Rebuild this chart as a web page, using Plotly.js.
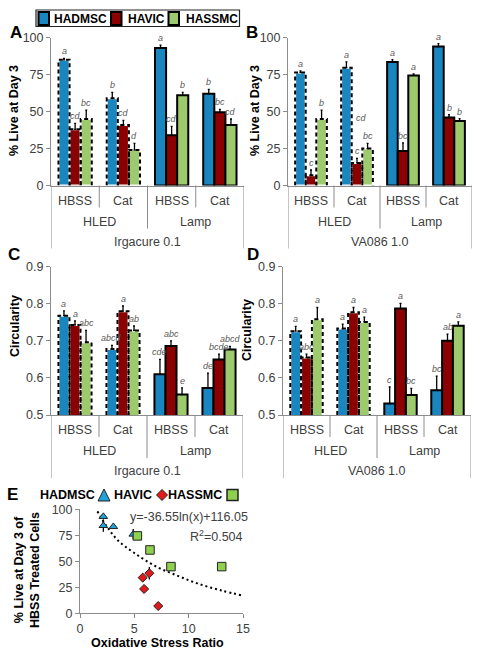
<!DOCTYPE html>
<html><head><meta charset="utf-8">
<script src="https://cdn.plot.ly/plotly-3.0.1.min.js"></script>
<style>html,body{margin:0;padding:0;background:#fff}#chart{width:483px;height:656px}</style>
</head><body><div id="chart"></div>
<script>
// ---------- data ----------
const groups = ['HBSS', 'Cat', 'HBSS', 'Cat'];
const lights = ['HLED', 'Lamp'];
const cellTypes = ['HADMSC', 'HAVIC', 'HASSMC'];

// Panel A: Irgacure 0.1, % live at day 3
const A_HADMSC = [85, 59, 93, 62];
const A_HAVIC = [38, 41, 34, 49.5];
const A_HASSMC = [45, 24, 61, 41];
const A_HADMSC_err = [1, 4, 2, 3];
const A_HAVIC_err = [4, 3, 6, 2];
const A_HASSMC_err = [6, 4.5, 2, 4];
const A_HADMSC_sig = ['a', 'b', 'a', 'b'];
const A_HAVIC_sig = ['cd', 'cd', 'cd', 'bc'];
const A_HASSMC_sig = ['bc', 'd', 'b', 'cd'];

// Panel B: VA086 1.0, % live at day 3
const B_HADMSC = [76.5, 79.7, 83.6, 94];
const B_HAVIC = [7, 15.3, 23.4, 46];
const B_HASSMC = [45, 25, 74.5, 43.7];
const B_HADMSC_err = [1, 4, 1.5, 2];
const B_HAVIC_err = [3.5, 3, 5.5, 2];
const B_HASSMC_err = [6, 3.5, 1, 1.5];
const B_HADMSC_sig = ['a', 'a', 'a', 'a'];
const B_HAVIC_sig = ['c', 'c', 'bc', 'b'];
const B_HASSMC_sig = ['b', 'bc', 'a', 'b'];

// Panel C: Irgacure 0.1, circularity
const C_HADMSC = [0.768, 0.678, 0.61, 0.573];
const C_HAVIC = [0.743, 0.780, 0.686, 0.650];
const C_HASSMC = [0.696, 0.728, 0.555, 0.677];
const C_HADMSC_err = [0.013, 0.010, 0.04, 0.04];
const C_HAVIC_err = [0.011, 0.014, 0.014, 0.014];
const C_HASSMC_err = [0.032, 0.012, 0.018, 0.008];
const C_HADMSC_sig = ['a', 'abcd', 'cde', 'de'];
const C_HAVIC_sig = ['a', 'a', 'abc', 'bcde'];
const C_HASSMC_sig = ['abc', 'ab', 'e', 'abcd'];

// Panel D: VA086 1.0, circularity
const D_HADMSC = [0.726, 0.733, 0.531, 0.567];
const D_HAVIC = [0.655, 0.777, 0.787, 0.700];
const D_HASSMC = [0.758, 0.751, 0.554, 0.741];
const D_HADMSC_err = [0.013, 0.012, 0.045, 0.038];
const D_HAVIC_err = [0.009, 0.013, 0.014, 0.018];
const D_HASSMC_err = [0.032, 0.013, 0.018, 0.010];
const D_HADMSC_sig = ['a', 'a', 'c', 'bc'];
const D_HAVIC_sig = ['abc', 'a', 'a', 'ab'];
const D_HASSMC_sig = ['a', 'a', 'bc', 'a'];

// Panel E: oxidative stress ratio vs % live (HBSS treated)
const E_HADMSC_x = [2.15, 2.15, 3.07, 4.9];
const E_HADMSC_y = [93, 84.3, 83.3, 76];
const E_HADMSC_err = [2, 6, 1, 5];
const E_HAVIC_x = [5.77, 5.9, 6.38, 7.2];
const E_HAVIC_y = [34.3, 23.4, 38.5, 7];
const E_HAVIC_err = [2, 1, 6, 3];
const E_HASSMC_x = [5.28, 6.44, 8.37, 13.04];
const E_HASSMC_y = [74.4, 60.9, 44.9, 44.9];
const E_HASSMC_err = [1, 3, 1, 1];
const E_fit_x = [1.6, 2.5, 3.5, 5, 7, 9, 11, 13, 15];
const E_fit_y = [98, 83, 70, 58, 45, 36, 28, 22, 17];

// ---------- helpers ----------
const CW = 483, CH = 656;
const px = x => x / CW;
const py = y => 1 - y / CH;
const W = 0.23;
const barColors = ['#1a86c0', '#8b0000', '#9dca6c'];
const axisGray = '#8c8c8c';
const txtGray = '#404040';
const FONT = 'Liberation Sans, Arial, sans-serif';

const traces = [];
const annotations = [];
const shapes = [];
const layout = {
  width: CW, height: CH, margin: {l: 0, r: 0, t: 0, b: 0},
  paper_bgcolor: '#fff', plot_bgcolor: 'rgba(0,0,0,0)',
  showlegend: false, font: {family: FONT, size: 12, color: txtGray},
  annotations: annotations, shapes: shapes
};
function note(o) {
  annotations.push(Object.assign({showarrow: false, xanchor: 'center', yanchor: 'middle'}, o));
}

const panels = [
  {n: 1, vals: [A_HADMSC, A_HAVIC, A_HASSMC], errs: [A_HADMSC_err, A_HAVIC_err, A_HASSMC_err],
   sig: [A_HADMSC_sig, A_HAVIC_sig, A_HASSMC_sig], dataset: 'Irgacure 0.1',
   xd: [51, 244], yd: [185.5, 37.7], range: [0, 100], ticks: [0, 25, 50, 75, 100], fmt: 'd',
   title: '% Live at Day 3', titleX: 14, titleY: 111, label: 'A', lx: 16, ly: 33},
  {n: 2, vals: [B_HADMSC, B_HAVIC, B_HASSMC], errs: [B_HADMSC_err, B_HAVIC_err, B_HASSMC_err],
   sig: [B_HADMSC_sig, B_HAVIC_sig, B_HASSMC_sig], dataset: 'VA086 1.0',
   xd: [288, 472], yd: [185.5, 37.7], range: [0, 100], ticks: [0, 25, 50, 75, 100], fmt: 'd',
   title: '% Live at Day 3', titleX: 255, titleY: 111, label: 'B', lx: 252, ly: 33},
  {n: 3, vals: [C_HADMSC, C_HAVIC, C_HASSMC], errs: [C_HADMSC_err, C_HAVIC_err, C_HASSMC_err],
   sig: [C_HADMSC_sig, C_HAVIC_sig, C_HASSMC_sig], dataset: 'Irgacure 0.1',
   xd: [51, 243], yd: [415, 266.7], range: [0.5, 0.9], ticks: [0.5, 0.6, 0.7, 0.8, 0.9], fmt: '.1f',
   title: 'Circularity', titleX: 15, titleY: 326, label: 'C', lx: 14, ly: 254},
  {n: 4, vals: [D_HADMSC, D_HAVIC, D_HASSMC], errs: [D_HADMSC_err, D_HAVIC_err, D_HASSMC_err],
   sig: [D_HADMSC_sig, D_HAVIC_sig, D_HASSMC_sig], dataset: 'VA086 1.0',
   xd: [283, 471], yd: [415, 266.7], range: [0.5, 0.9], ticks: [0.5, 0.6, 0.7, 0.8, 0.9], fmt: '.1f',
   title: 'Circularity', titleX: 247, titleY: 330, label: 'D', lx: 253, ly: 255}
];

panels.forEach(p => {
  const xa = 'x' + (p.n === 1 ? '' : p.n), ya = 'y' + (p.n === 1 ? '' : p.n);
  const xk = 'xaxis' + (p.n === 1 ? '' : p.n), yk = 'yaxis' + (p.n === 1 ? '' : p.n);
  layout[xk] = {domain: [px(p.xd[0]), px(p.xd[1])], anchor: ya, range: [-0.5, 3.5],
    showticklabels: false, ticks: '', showgrid: false, zeroline: false,
    showline: true, linecolor: axisGray, linewidth: 1, fixedrange: true};
  layout[yk] = {domain: [py(p.yd[0]), py(p.yd[1])], anchor: xa, range: p.range,
    tickvals: p.ticks, tickformat: p.fmt, ticks: 'outside', ticklen: 4, tickcolor: axisGray,
    showgrid: false, zeroline: false, showline: true, linecolor: axisGray, linewidth: 1,
    tickfont: {size: 12.5, color: txtGray, family: FONT}, fixedrange: true};

  p.vals.forEach((vals, s) => {
    const xs = groups.map((_, g) => g + (s - 1) * W);
    traces.push({
      type: 'bar', x: xs, y: vals, width: W, base: 0, xaxis: xa, yaxis: ya,
      marker: {color: barColors[s],
               line: {color: groups.map((_, g) => g < 2 ? '#ffffff' : '#000000'), width: 2}},
      error_y: {type: 'data', symmetric: false, array: p.errs[s], arrayminus: vals.map(() => 0),
                color: '#000', thickness: 1.3, width: 1},
      hoverinfo: 'skip', showlegend: false
    });
    // dashed outline for HLED bars
    const ox = [], oy = [];
    vals.forEach((v, g) => {
      if (g >= 2) return;
      const x = xs[g];
      ox.push(x - W / 2, x - W / 2, x + W / 2, x + W / 2, null);
      oy.push(p.range[0], v, v, p.range[0], null);
    });
    traces.push({type: 'scatter', mode: 'lines', x: ox, y: oy, xaxis: xa, yaxis: ya,
      line: {color: '#000', width: 2, dash: '4px,3px'}, hoverinfo: 'skip', showlegend: false,
      cliponaxis: false, connectgaps: false});
    // significance letters
    vals.forEach((v, g) => {
      note({xref: xa, yref: ya, x: xs[g], y: v + p.errs[s][g],
        text: '<i>' + p.sig[s][g] + '</i>', yanchor: 'bottom',
        font: {size: 9, color: '#595959', family: FONT}});
    });
  });

  const axisY = p.yd[0];
  groups.forEach((gname, g) => {
    note({xref: xa, yref: 'paper', x: g, y: py(axisY + 15), text: gname,
      font: {size: 12.5, color: txtGray, family: FONT}});
  });
  lights.forEach((l, i) => {
    note({xref: xa, yref: 'paper', x: 0.5 + 2 * i, y: py(axisY + 36), text: l,
      font: {size: 12.5, color: txtGray, family: FONT}});
  });
  note({xref: xa, yref: 'paper', x: 1.5, y: py(axisY + 56), text: p.dataset,
    font: {size: 12.5, color: txtGray, family: FONT}});
  [[0.5, 22], [2.5, 22], [1.5, 43], [-0.5, 63], [3.5, 63]].forEach(([x, len]) => {
    shapes.push({type: 'line', xref: xa, yref: 'paper', x0: x, x1: x,
      y0: py(axisY), y1: py(axisY + len), line: {color: axisGray, width: 1}});
  });
  note({xref: 'paper', yref: 'paper', x: px(p.titleX), y: py(p.titleY),
    text: '<b>' + p.title + '</b>', textangle: -90,
    font: {size: 12.5, color: '#000', family: FONT}});
  note({xref: 'paper', yref: 'paper', x: px(p.lx), y: py(p.ly),
    text: '<b>' + p.label + '</b>', font: {size: 17, color: '#000', family: FONT}});
});

// extra floating letter in panel B
note({xref: 'x2', yref: 'y2', x: 1.1, y: 46, text: '<i>cd</i>',
  font: {size: 9, color: '#595959', family: FONT}});

// ---------- Panel E ----------
layout.xaxis5 = {domain: [px(80), px(243)], anchor: 'y5', range: [0, 15], tickvals: [0, 5, 10, 15],
  ticks: 'outside', ticklen: 4, tickcolor: axisGray, showgrid: false, zeroline: false,
  showline: true, linecolor: axisGray, tickfont: {size: 12.5, color: txtGray, family: FONT}, fixedrange: true};
layout.yaxis5 = {domain: [py(613.3), py(509.3)], anchor: 'x5', range: [0, 100], tickvals: [0, 25, 50, 75, 100],
  ticks: 'outside', ticklen: 4, tickcolor: axisGray, showgrid: false, zeroline: false,
  showline: true, linecolor: axisGray, tickfont: {size: 12.5, color: txtGray, family: FONT}, fixedrange: true};

traces.push({type: 'scatter', mode: 'lines', x: E_fit_x, y: E_fit_y, xaxis: 'x5', yaxis: 'y5',
  line: {color: '#000', width: 2, dash: '2px,3px', shape: 'spline'}, hoverinfo: 'skip'});
const eSeries = [
  {x: E_HADMSC_x, y: E_HADMSC_y, e: E_HADMSC_err, sym: 'triangle-up', col: '#1ea2d8', size: 7.5},
  {x: E_HAVIC_x, y: E_HAVIC_y, e: E_HAVIC_err, sym: 'diamond', col: '#e0191b', size: 7},
  {x: E_HASSMC_x, y: E_HASSMC_y, e: E_HASSMC_err, sym: 'square', col: '#8fd14f', size: 8.5}
];
eSeries.forEach(s => {
  traces.push({type: 'scatter', mode: 'markers', x: s.x, y: s.y, xaxis: 'x5', yaxis: 'y5',
    marker: {symbol: s.sym, color: s.col, size: s.size, line: {color: '#222', width: 1}},
    error_y: {type: 'data', array: s.e, color: '#000', thickness: 1.3, width: 0},
    hoverinfo: 'skip', cliponaxis: false});
});
note({xref: 'paper', yref: 'paper', x: px(250), y: py(517), xanchor: 'right',
  text: 'y=-36.55ln(x)+116.05', font: {size: 12.5, color: txtGray, family: FONT}});
note({xref: 'paper', yref: 'paper', x: px(245), y: py(536), xanchor: 'right',
  text: 'R<sup>2</sup>=0.504', font: {size: 12.5, color: txtGray, family: FONT}});
note({xref: 'paper', yref: 'paper', x: px(157), y: py(643),
  text: '<b>Oxidative Stress Ratio</b>', font: {size: 12.5, color: '#000', family: FONT}});
note({xref: 'paper', yref: 'paper', x: px(27), y: py(570), textangle: -90,
  text: '<b>% Live at Day 3 of<br>HBSS Treated Cells</b>', font: {size: 12.5, color: '#000', family: FONT}});
note({xref: 'paper', yref: 'paper', x: px(12), y: py(494),
  text: '<b>E</b>', font: {size: 17, color: '#000', family: FONT}});

// E legend
function path(pts) {
  return 'M' + pts.map(p => px(p[0]) + ',' + py(p[1])).join('L') + 'Z';
}
[['HADMSC', 97], ['HAVIC', 154], ['HASSMC', 224]].forEach(([t, xr]) => {
  note({xref: 'paper', yref: 'paper', x: px(xr), y: py(495), xanchor: 'right',
    text: '<b>' + t + '</b>', font: {size: 12.5, color: '#000', family: FONT}});
});
shapes.push({type: 'path', xref: 'paper', yref: 'paper', path: path([[104, 489], [110, 501], [98, 501]]),
  fillcolor: '#1ea2d8', line: {color: '#222', width: 1}});
shapes.push({type: 'path', xref: 'paper', yref: 'paper', path: path([[162, 489.5], [167.5, 495], [162, 500.5], [156.5, 495]]),
  fillcolor: '#e0191b', line: {color: '#222', width: 1}});
shapes.push({type: 'rect', xref: 'paper', yref: 'paper', x0: px(227), x1: px(238), y0: py(500.5), y1: py(489.5),
  fillcolor: '#8fd14f', line: {color: '#222', width: 1.5}});

// top legend
shapes.push({type: 'rect', xref: 'paper', yref: 'paper', x0: px(36), x1: px(239.5), y0: py(26.5), y1: py(10),
  fillcolor: 'rgba(0,0,0,0)', line: {color: '#222', width: 1.2}});
[[38.5, 51.5, 'HADMSC'], [111, 125.5, 'HAVIC'], [168.5, 183.5, 'HASSMC']].forEach(([sx, tx, t], i) => {
  shapes.push({type: 'rect', xref: 'paper', yref: 'paper', x0: px(sx), x1: px(sx + 10.5), y0: py(25), y1: py(12),
    fillcolor: barColors[i], line: {color: '#000', width: 2}});
  note({xref: 'paper', yref: 'paper', x: px(tx), y: py(18.5), xanchor: 'left',
    text: '<b>' + t + '</b>', font: {size: 12, color: '#000', family: FONT}});
});

Plotly.newPlot('chart', traces, layout, {staticPlot: true, displayModeBar: false});
</script></body></html>
